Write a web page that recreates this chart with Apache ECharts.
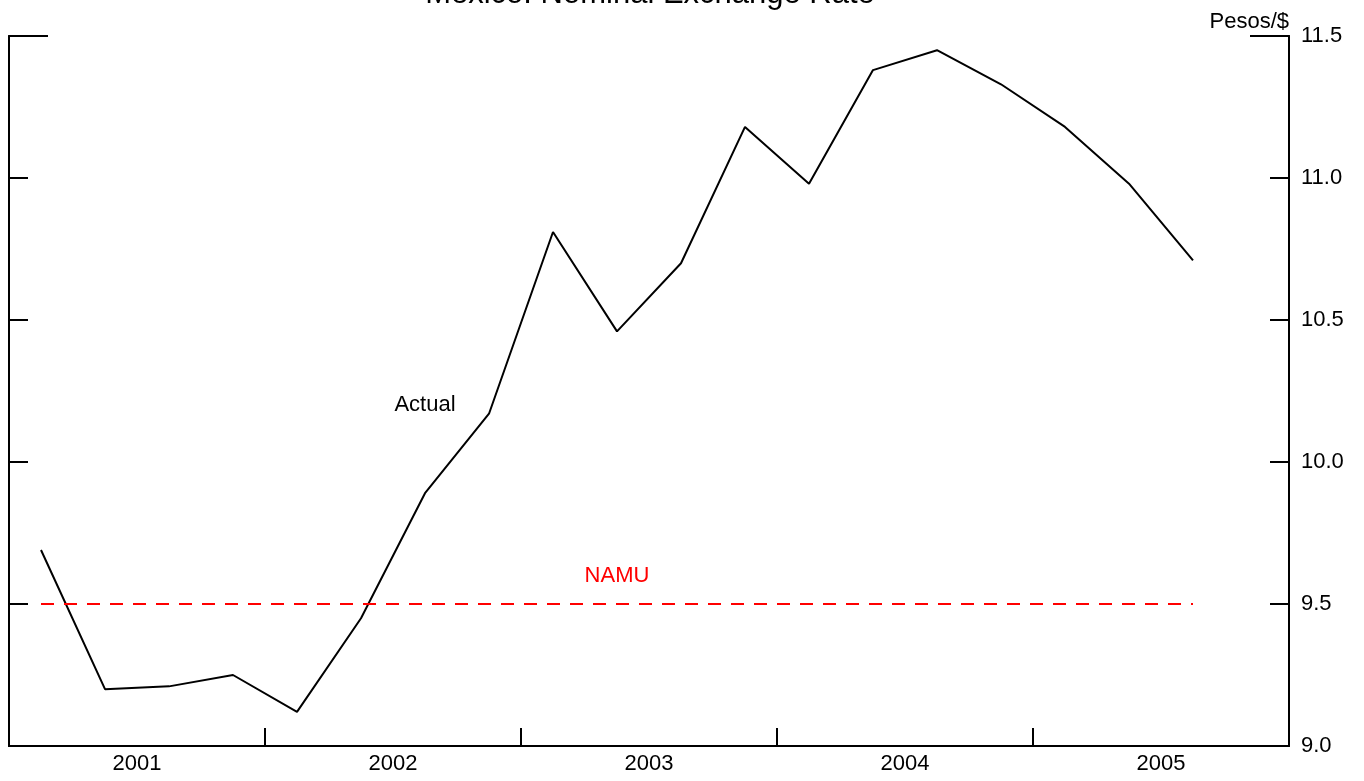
<!DOCTYPE html>
<html>
<head>
<meta charset="utf-8">
<title>Mexico: Nominal Exchange Rate</title>
<script src="https://cdn.jsdelivr.net/npm/echarts@6/dist/echarts.min.js"></script>
<style>
  html, body { margin: 0; padding: 0; background: #fff; }
  #chart { width: 1364px; height: 781px; }
</style>
</head>
<body>
<div id="chart"></div>
<script>
var quarters = ['2001Q1', '2001Q2', '2001Q3', '2001Q4',
  '2002Q1', '2002Q2', '2002Q3', '2002Q4',
  '2003Q1', '2003Q2', '2003Q3', '2003Q4',
  '2004Q1', '2004Q2', '2004Q3', '2004Q4',
  '2005Q1', '2005Q2', '2005Q3', '2005Q4'];
var years = ['2001', '2002', '2003', '2004', '2005'];
// pesos per dollar, quarterly
var actual = [9.69, 9.20, 9.21, 9.25, 9.12, 9.45, 9.89, 10.17, 10.81, 10.46,
  10.70, 11.18, 10.98, 11.38, 11.45, 11.33, 11.18, 10.98, 10.71];
var namu = [9.5, 9.5, 9.5, 9.5, 9.5, 9.5, 9.5, 9.5, 9.5, 9.5,
  9.5, 9.5, 9.5, 9.5, 9.5, 9.5, 9.5, 9.5, 9.5];
var yTicks = [9.5, 10.0, 10.5, 11.0];
var yTop = [11.5];

var font = 'Liberation Sans, Arial, sans-serif';
var fs = 22;
var chart = echarts.init(document.getElementById('chart'));

function sideAxis(pos, values, len, labels) {
  return {
    type: 'value', position: pos, min: 9, max: 11.5, interval: 0.5,
    axisLine: { show: true, lineStyle: { color: '#000', width: 2 } },
    axisTick: { show: true, inside: true, length: len, customValues: values,
      lineStyle: { color: '#000', width: 2 } },
    axisLabel: { show: labels, margin: 12, color: '#000', fontSize: fs, fontFamily: font,
      formatter: function (v) { return v.toFixed(1); } },
    splitLine: { show: false }
  };
}

var right = sideAxis('right', yTicks, 19, true);
right.name = 'Pesos/$';
right.nameLocation = 'end';
right.nameGap = 3;
right.nameTextStyle = { color: '#000', fontSize: fs, fontFamily: font, align: 'right' };

var option = {
  animation: false,
  title: {
    text: 'Mexico: Nominal Exchange Rate',
    left: 645, top: -26, textAlign: 'center',
    textStyle: { color: '#000', fontSize: 31, fontWeight: 'normal', fontFamily: font }
  },
  grid: { left: 9, right: 75, top: 36, bottom: 35 },
  xAxis: [{
    type: 'category', data: quarters, boundaryGap: true,
    axisLine: { show: true, lineStyle: { color: '#000', width: 2 } },
    axisTick: { show: true, inside: true, length: 18,
      interval: function (i) { return i > 0 && i % 4 === 0; },
      lineStyle: { color: '#000', width: 2 } },
    axisLabel: { show: false },
    splitLine: { show: false }
  }, {
    type: 'category', data: years, boundaryGap: true, position: 'bottom',
    axisLine: { show: false }, axisTick: { show: false },
    axisLabel: { color: '#000', fontSize: fs, fontFamily: font, margin: 7 },
    splitLine: { show: false }
  }],
  yAxis: [
    sideAxis('left', yTicks, 19, false),
    right,
    sideAxis('left', yTop, 39, false),
    sideAxis('right', yTop, 39, false)
  ],
  series: [{
    name: 'Actual', type: 'line', data: actual, yAxisIndex: 1,
    symbol: 'none', lineStyle: { color: '#000', width: 2 },
    markPoint: {
      symbol: 'circle', symbolSize: 0,
      label: { show: true, position: 'inside', color: '#000', fontSize: fs, fontFamily: font,
        formatter: '{b}' },
      data: [{ name: 'Actual', coord: ['2002Q3', 10.20] }]
    }
  }, {
    name: 'NAMU', type: 'line', data: namu, yAxisIndex: 1,
    symbol: 'none', lineStyle: { color: '#ff0000', width: 2, type: [13, 10] },
    markPoint: {
      symbol: 'circle', symbolSize: 0,
      label: { show: true, position: 'inside', color: '#ff0000', fontSize: fs, fontFamily: font,
        formatter: '{b}' },
      data: [{ name: 'NAMU', coord: ['2003Q2', 9.60] }]
    }
  }]
};

chart.setOption(option);
</script>
</body>
</html>
